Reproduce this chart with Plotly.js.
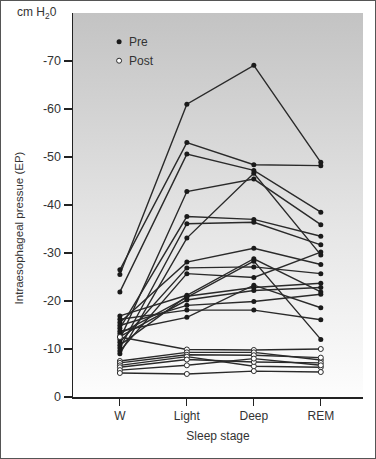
<!DOCTYPE html>
<html><head><meta charset="utf-8">
<script src="https://cdn.plot.ly/plotly-3.0.1.min.js"></script>
<style>
html,body{margin:0;padding:0;background:#fff;}
#wrap{position:relative;width:376px;height:459px;}
#chart{position:absolute;left:0;top:0;width:376px;height:459px;}
#frame{position:absolute;left:0;top:0;width:374px;height:457px;border:1px solid #555;pointer-events:none;}
</style></head>
<body>
<div id="wrap"><div id="chart"></div><div id="frame"></div></div>
<script>
const stages = ['W', 'Light', 'Deep', 'REM'];
const yTicks = [0, -10, -20, -30, -40, -50, -60, -70];

// Pre subjects (cm H2O), one entry per subject
const preW     = [-25.5, -26.5, -21.9, -12.0, -9.0, -14.3, -10.2, -15.5, -11.4, -9.6, -16.9, -13.2, -10.8, -12.6, -14.9, -16.2, -13.7];
const preLight = [-61.0, -53.0, -50.6, -42.8, -33.1, -37.6, -36.1, -28.1, -26.9, -25.7, -21.2, -20.7, -21.0, -20.2, -19.1, -18.1, -16.6];
const preDeep  = [-69.1, -48.4, -47.2, -45.4, -46.6, -37.0, -36.4, -31.0, -27.1, -24.9, -28.8, -28.3, -22.8, -22.2, -19.9, -18.1, -23.3];
const preREM   = [-48.9, -48.2, -38.5, -35.9, -29.6, -33.5, -31.7, -27.6, -25.7, -30.2, -21.9, -12.0, -23.7, -22.8, -21.4, -16.1, -18.6];

// Post subjects
const postW     = [-12.5, -7.5, -7.1, -6.6, -6.2, -5.6, -5.0];
const postLight = [-9.9, -9.3, -8.8, -8.4, -7.8, -6.6, -4.8];
const postDeep  = [-9.8, -9.3, -8.7, -6.4, -7.3, -8.0, -5.4];
const postREM   = [-10.0, -7.7, -8.2, -6.2, -7.1, -6.6, -5.2];

function build(w, l, d, r) {
  const x = [], y = [];
  for (let i = 0; i < w.length; i++) {
    const vals = [w[i], l[i], d[i], r[i]];
    for (let k = 0; k < 4; k++) { x.push(stages[k]); y.push(vals[k]); }
    x.push(null); y.push(null);
  }
  return {x, y};
}
const pre = build(preW, preLight, preDeep, preREM);
const post = build(postW, postLight, postDeep, postREM);

const FONT = '"Liberation Sans Narrow", "Liberation Sans", Arial, sans-serif';
const TXT = '#333';

const traces = [
  {x: pre.x, y: pre.y, mode: 'lines+markers', connectgaps: false, showlegend: false,
   line: {color: '#2a2a2a', width: 1.4},
   marker: {color: '#1a1a1a', size: 5}},
  {x: post.x, y: post.y, mode: 'lines+markers', connectgaps: false, showlegend: false,
   line: {color: '#2a2a2a', width: 1.4},
   marker: {color: '#ffffff', size: 5, line: {color: '#2a2a2a', width: 1}}},
  {x: [null], y: [null], mode: 'markers', name: 'Pre',
   marker: {color: '#1a1a1a', size: 5}},
  {x: [null], y: [null], mode: 'markers', name: 'Post',
   marker: {color: '#ffffff', size: 5, line: {color: '#2a2a2a', width: 1}}}
];

const svgGrad = '<svg xmlns="http://www.w3.org/2000/svg" width="10" height="100" preserveAspectRatio="none">' +
  '<defs><linearGradient id="g" x1="0" y1="0" x2="0" y2="1">' +
  '<stop offset="0" stop-color="#c3c3c3"/><stop offset="0.55" stop-color="#e5e5e5"/><stop offset="1" stop-color="#fdfdfd"/>' +
  '</linearGradient></defs><rect width="10" height="100" fill="url(#g)"/></svg>';

const layout = {
  width: 376, height: 459,
  margin: {l: 73, r: 13, t: 13, b: 62},
  paper_bgcolor: '#ffffff',
  plot_bgcolor: 'rgba(0,0,0,0)',
  font: {family: FONT, size: 12, color: TXT},
  images: [{
    source: 'data:image/svg+xml;base64,' + btoa(svgGrad),
    xref: 'paper', yref: 'paper', x: 0, y: 1, sizex: 1, sizey: 1,
    sizing: 'stretch', layer: 'below', xanchor: 'left', yanchor: 'top'
  }],
  xaxis: {
    type: 'category', categoryorder: 'array', categoryarray: stages,
    range: [-0.7, 3.63],
    showgrid: false, zeroline: false,
    showline: true, linecolor: '#222', linewidth: 1.5,
    ticks: 'outside', ticklen: 7, tickwidth: 1.2, tickcolor: '#222',
    tickfont: {family: FONT, size: 12, color: TXT},
    title: {text: 'Sleep stage', font: {family: FONT, size: 12, color: TXT}, standoff: 9}
  },
  yaxis: {
    range: [0, -80],
    tickvals: yTicks, ticktext: yTicks.map(String),
    showgrid: false, zeroline: false,
    showline: true, linecolor: '#222', linewidth: 1.5,
    ticks: 'outside', ticklen: 8, tickwidth: 1.2, tickcolor: '#222',
    tickfont: {family: FONT, size: 12.5, color: TXT}
  },
  legend: {
    x: 0.09, y: 0.963, xanchor: 'left', yanchor: 'top',
    bgcolor: 'rgba(0,0,0,0)', borderwidth: 0,
    font: {family: FONT, size: 12, color: TXT},
    itemwidth: 30, tracegroupgap: 0
  },
  annotations: [
    {text: 'cm H<sub>2</sub>0', xref: 'paper', yref: 'paper', x: -0.05, y: 1.0,
     xanchor: 'right', yanchor: 'middle', showarrow: false,
     font: {family: FONT, size: 12, color: TXT}},
    {text: 'Intraesophageal pressue (EP)', xref: 'paper', yref: 'paper',
     x: -0.185, y: 0.44, xanchor: 'center', yanchor: 'middle', textangle: -90, showarrow: false,
     font: {family: FONT, size: 11.5, color: TXT}}
  ]
};

Plotly.newPlot('chart', traces, layout, {displayModeBar: false, staticPlot: true}).then(function (gd) {
  gd.querySelectorAll('.legendtext').forEach(function (t) { t.setAttribute('x', '30'); });
});
</script>
</body></html>
